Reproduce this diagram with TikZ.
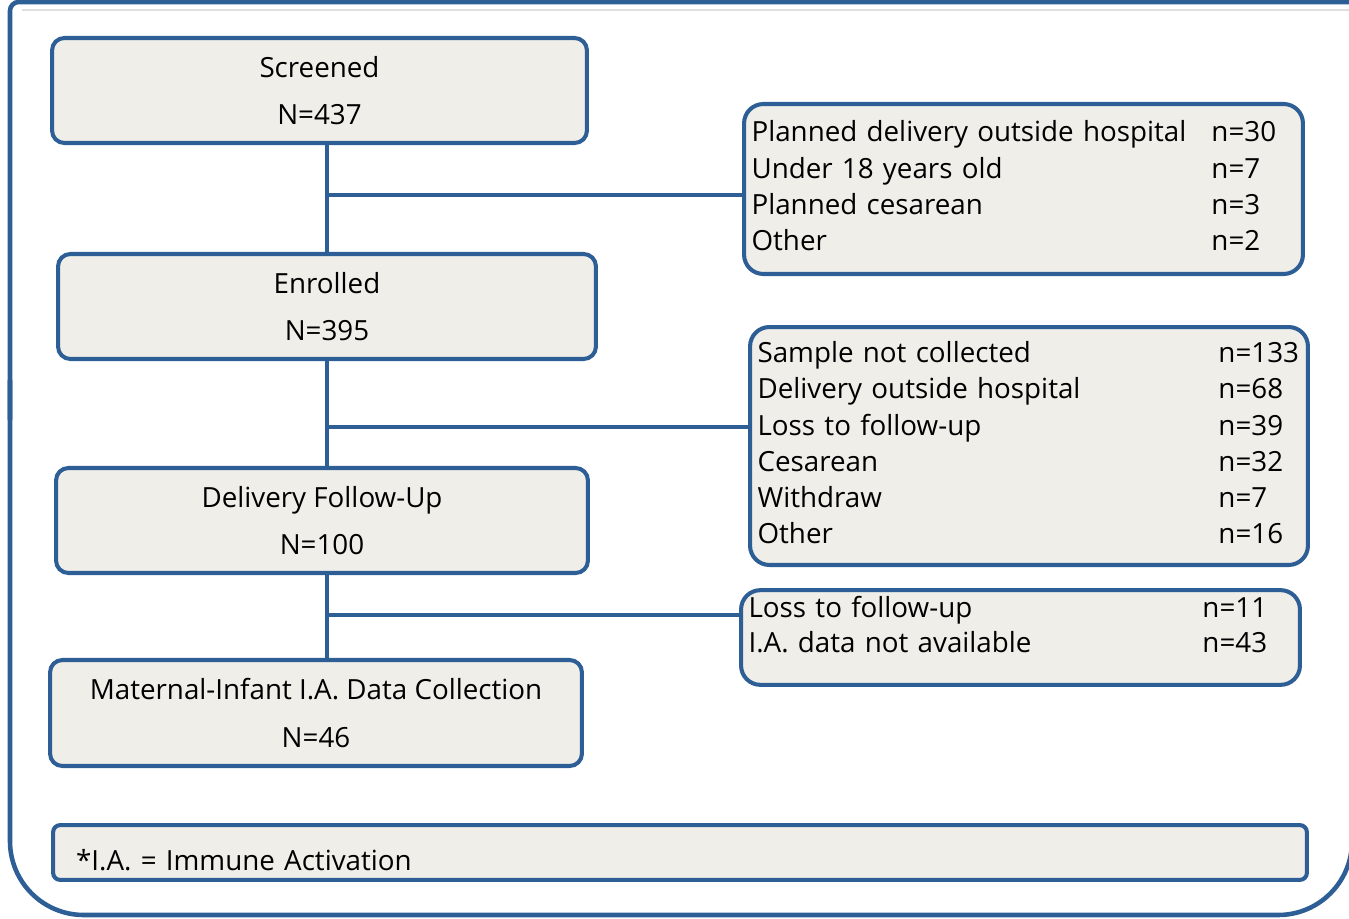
\documentclass[tikz,border=0pt]{standalone}
\usepackage{fontspec}
\setmainfont{Open Sans}
\usepackage{array}
\definecolor{frameblue}{HTML}{2D5F96}
\definecolor{boxfill}{HTML}{EFEEE8}
\tikzset{
	flowbox/.style={draw=frameblue, fill=boxfill, line width=2.3pt, rounded corners=7pt, align=center, font=\fontsize{15.8}{27.2}\selectfont},
	listbox/.style={draw=frameblue, fill=boxfill, line width=2.3pt, rounded corners=11pt, inner xsep=0.15cm, align=left, font=\fontsize{15.8}{20.6}\selectfont},
	notebox/.style={draw=frameblue, fill=boxfill, line width=2.3pt, rounded corners=4pt, inner xsep=0.46cm, inner ysep=0pt, align=left, font=\fontsize{15.8}{17}\selectfont},
	link/.style={frameblue, line width=2.8pt}
}
\begin{document}
\begin{tikzpicture}[x=0.02cm, y=-0.02cm]
	\useasboundingbox (0,0) rectangle (1349,919);
	\draw[gray!25, line width=0.8pt] (22,10) -- (1349,10);
	\draw[frameblue, line width=2.6pt, rounded corners=5pt] (1349,2) -- (10,2) -- (10,420);
	\draw[frameblue, line width=2.6pt, rounded corners=42pt] (10,380) -- (10,915) -- (1352,915) -- (1352,700);
	\node[flowbox, minimum width=10.7cm, minimum height=2.1cm] (screened) at (319.5,90.5) {Screened\\N=437};
	\node[flowbox, minimum width=10.76cm, minimum height=2.1cm] (enrolled) at (327,306.5) {Enrolled\\N=395};
	\node[flowbox, minimum width=10.64cm, minimum height=2.1cm] (delivery) at (322,520.5) {Delivery Follow-Up\\N=100};
	\node[flowbox, minimum width=10.64cm, minimum height=2.12cm] (maternal) at (316,713) {Maternal-Infant I.A. Data Collection\\N=46};
	\node[listbox, text width=10.88cm, minimum height=3.4cm] (excl1) at (1023.5,189) {\begin{tabular}{@{}p{9.2cm}@{}l@{}}
		Planned delivery outside hospital & n=30\\
		Under 18 years old & n=7\\
		Planned cesarean & n=3\\
		Other & n=2
	\end{tabular}};
	\node[listbox, text width=10.86cm, minimum height=4.76cm] (excl2) at (1029,446) {\begin{tabular}{@{}p{9.22cm}@{}l@{}}
		Sample not collected & n=133\\
		Delivery outside hospital & n=68\\
		Loss to follow-up & n=39\\
		Cesarean & n=32\\
		Withdraw & n=7\\
		Other & n=16
	\end{tabular}};
	\node[listbox, text width=10.88cm, inner ysep=0pt, text height=15.6pt, text depth=38.3pt, font=\fontsize{15.8}{19.8}\selectfont] (excl3) at (1020.5,637.5) {\begin{tabular}[t]{@{}p{9.08cm}@{}l@{}}
		Loss to follow-up & n=11\\
		I.A. data not available & n=43
	\end{tabular}};
	\node[notebox, text width=24.16cm, text height=25.6pt, text depth=5.6pt] (note) at (680,852.5) {*I.A. = Immune Activation};
	\coordinate (j1) at (327,195);
	\coordinate (j2) at (327,427);
	\coordinate (j3) at (327,615);
	\draw[link] (j1 |- screened.south) -- (j1 |- enrolled.north);
	\draw[link] (j1) -- (j1 -| excl1.west);
	\draw[link] (j2 |- enrolled.south) -- (j2 |- delivery.north);
	\draw[link] (j2) -- (j2 -| excl2.west);
	\draw[link] (j3 |- delivery.south) -- (j3 |- maternal.north);
	\draw[link] (j3) -- (j3 -| excl3.west);
\end{tikzpicture}
\end{document}
